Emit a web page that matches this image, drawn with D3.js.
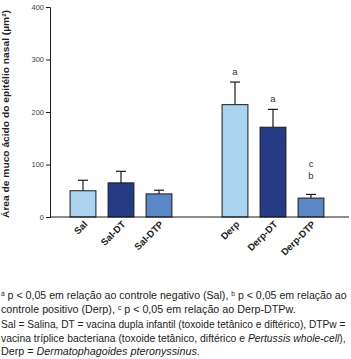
<!DOCTYPE html>
<html>
<head>
<meta charset="utf-8">
<script src="https://cdn.jsdelivr.net/npm/d3@7"></script>
<style>
  body { margin: 0; background: #fff; }
  svg { display: block; font-family: "Liberation Sans", Arial, sans-serif; }
</style>
</head>
<body>
<div id="chart"></div>
<script>
const groups = ["Sal", "Sal-DT", "Sal-DTP", "", "Derp", "Derp-DT", "Derp-DTP"];
const means = [50, 65, 44, null, 214, 171, 36];
const errors = [20, 22, 7, null, 43, 34, 7];
const colors = ["#a9d3ef", "#253b85", "#5b87c6", null, "#a9d3ef", "#253b85", "#5b87c6"];
const marks = [[], [], [], [], ["a"], ["a"], ["b", "c"]];
const yTicks = [0, 100, 200, 300, 400];

const width = 351;
const height = 359;

const svg = d3.select("#chart")
  .append("svg")
  .attr("width", width)
  .attr("height", height);

const xScale = d3.scaleBand()
  .domain(groups.map((d, i) => i))
  .range([64, 330])
  .paddingInner(0.32)
  .paddingOuter(0.16);

const yScale = d3.scaleLinear()
  .domain([0, 400])
  .range([217, 7]);

const data = groups.map((g, i) => ({
  i, name: g, mean: means[i], err: errors[i], color: colors[i], marks: marks[i]
})).filter(d => d.mean !== null);

const cx = d => xScale(d.i) + xScale.bandwidth() / 2;

// bars
svg.append("g")
  .selectAll("rect")
  .data(data)
  .join("rect")
  .attr("x", d => xScale(d.i))
  .attr("y", d => yScale(d.mean))
  .attr("width", xScale.bandwidth())
  .attr("height", d => yScale(0) - yScale(d.mean))
  .attr("fill", d => d.color)
  .attr("stroke", "#1a1a1a")
  .attr("stroke-width", 1);

// error bars
const eb = svg.append("g")
  .attr("stroke", "#1a1a1a")
  .attr("stroke-width", 1.2);

eb.selectAll("line.v")
  .data(data)
  .join("line")
  .attr("class", "v")
  .attr("x1", cx)
  .attr("x2", cx)
  .attr("y1", d => yScale(d.mean))
  .attr("y2", d => yScale(d.mean + d.err));

eb.selectAll("line.h")
  .data(data)
  .join("line")
  .attr("class", "h")
  .attr("x1", d => cx(d) - 5)
  .attr("x2", d => cx(d) + 5)
  .attr("y1", d => yScale(d.mean + d.err))
  .attr("y2", d => yScale(d.mean + d.err));

// significance letters (stacked ones sit higher)
data.forEach(d => {
  const gap = d.marks.length > 1 ? 15 : 7;
  d.marks.forEach((m, k) => {
    svg.append("text")
      .attr("x", cx(d))
      .attr("y", yScale(d.mean + d.err) - gap - k * 12)
      .attr("text-anchor", "middle")
      .attr("font-size", 9.5)
      .attr("fill", "#333")
      .text(m);
  });
});

// Y axis
const yAxis = svg.append("g")
  .attr("transform", "translate(50,0)")
  .call(d3.axisLeft(yScale).tickValues(yTicks).tickSize(4).tickPadding(2));
yAxis.select(".domain").attr("stroke", "#1a1a1a");
yAxis.selectAll(".tick line").attr("stroke", "#1a1a1a");
yAxis.selectAll(".tick text")
  .attr("font-family", "Liberation Sans, Arial, sans-serif")
  .attr("font-size", 7.5)
  .attr("fill", "#444");

// X axis line
svg.append("line")
  .attr("x1", 50).attr("x2", 349)
  .attr("y1", yScale(0)).attr("y2", yScale(0))
  .attr("stroke", "#1a1a1a");

// X labels
svg.append("g")
  .selectAll("text")
  .data(data)
  .join("text")
  .attr("transform", d => `translate(${cx(d) + 5},${yScale(0) + 8}) rotate(-45)`)
  .attr("text-anchor", "end")
  .attr("font-size", 9.5)
  .attr("font-weight", "bold")
  .attr("fill", "#222")
  .text(d => d.name);

// Y label
svg.append("text")
  .attr("transform", "rotate(-90)")
  .attr("x", -114)
  .attr("y", 9)
  .attr("text-anchor", "middle")
  .attr("font-size", 9)
  .attr("font-weight", "bold")
  .attr("fill", "#222")
  .attr("textLength", 208)
  .attr("lengthAdjust", "spacingAndGlyphs")
  .text("Área de muco ácido do epitélio nasal (µm²)");

// footnotes
const notes = svg.append("g")
  .attr("font-size", 10.5)
  .attr("fill", "#222");

const lines = [
  { y: 299, len: 346, parts: [["a", "sup"], [" p < 0,05 em relação ao controle negativo (Sal), "], ["b", "sup"], [" p < 0,05 em relação ao"]] },
  { y: 313, len: 295, parts: [["controle positivo (Derp), "], ["c", "sup"], [" p < 0,05 em relação ao Derp-DTPw."]] },
  { y: 327.5, len: 345, parts: [["Sal = Salina, DT = vacina dupla infantil (toxoide tetânico e diftérico), DTPw ="]] },
  { y: 341.5, len: 345, parts: [["vacina tríplice bacteriana (toxoide tetânico, diftérico e "], ["Pertussis whole-cell", "it"], [")," ]] },
  { y: 355, len: 199, parts: [["Derp = "], ["Dermatophagoides pteronyssinus", "it"], ["."]] }
];

lines.forEach(l => {
  const t = notes.append("text")
    .attr("x", 0)
    .attr("y", 0);
  let prevSup = false;
  l.parts.forEach(p => {
    const ts = t.append("tspan").text(p[0]);
    if (p[1] === "sup") ts.attr("font-size", 6.5).attr("dy", -3.5);
    else if (prevSup) ts.attr("dy", 3.5);
    if (p[1] === "it") ts.attr("font-style", "italic");
    prevSup = p[1] === "sup";
  });
  // squeeze horizontally to the width seen in the reference
  const natural = t.node().getComputedTextLength();
  t.attr("transform", `translate(1,${l.y}) scale(${l.len / natural},1)`);
});
</script>
</body>
</html>
